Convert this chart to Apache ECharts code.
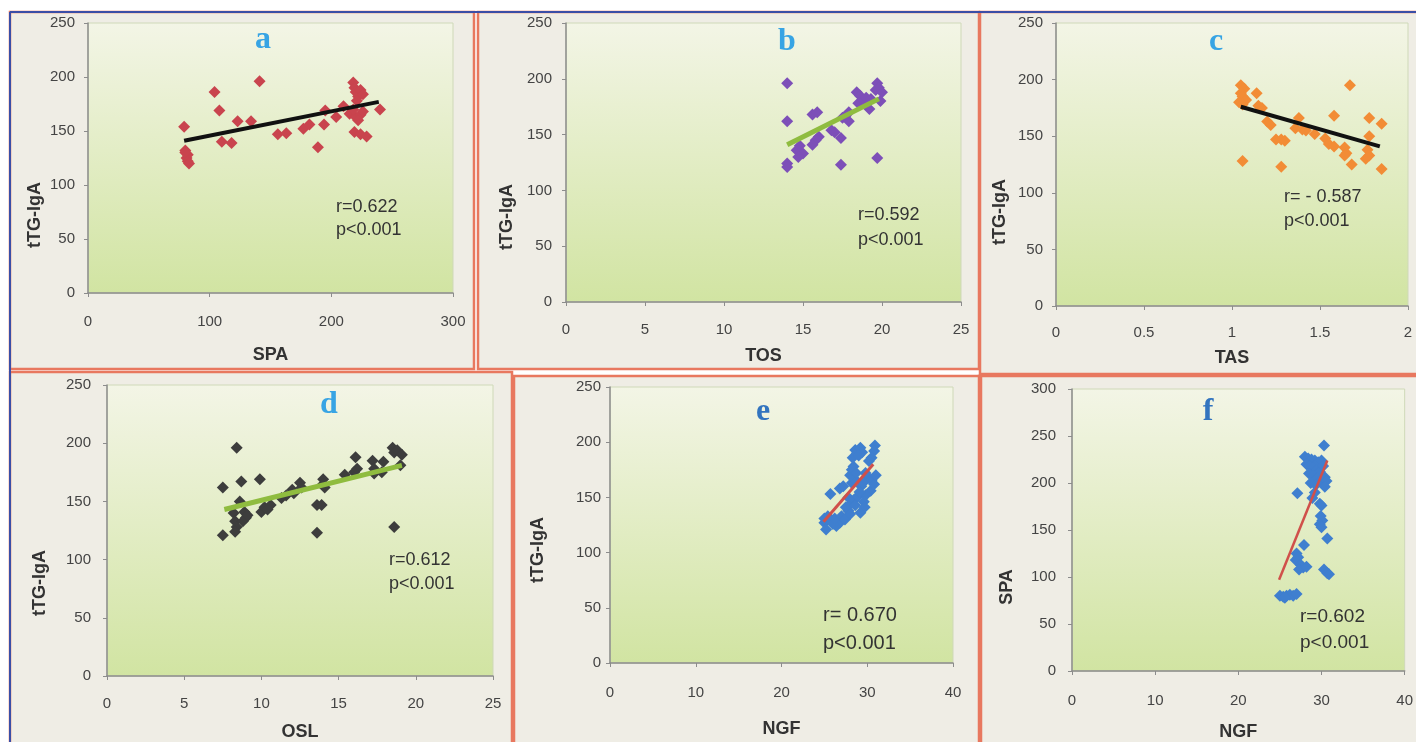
<!DOCTYPE html>
<html>
<head>
<meta charset="utf-8">
<script src="https://cdn.jsdelivr.net/npm/echarts@6/dist/echarts.min.js"></script>
<style>
html,body{margin:0;padding:0;background:#ffffff;}
#chart{width:1416px;height:742px;}
</style>
</head>
<body>
<div id="chart"></div>
<script>
// ---------- DATA ----------
const panelLetters = ['a','b','c','d','e','f'];
const xTitles = ['SPA','TOS','TAS','OSL','NGF','NGF'];
const yTitles = ['tTG-IgA','tTG-IgA','tTG-IgA','tTG-IgA','tTG-IgA','SPA'];
const rTexts = ['r=0.622','r=0.592','r= - 0.587','r=0.612','r= 0.670','r=0.602'];
const pTexts = ['p<0.001','p<0.001','p<0.001','p<0.001','p<0.001','p<0.001'];
const xMax = [300, 25, 2, 25, 40, 40];
const xStep = [100, 5, 0.5, 5, 10, 10];
const yMax = [250, 250, 250, 250, 250, 300];
const yStep = [50, 50, 50, 50, 50, 50];

const spaVsTtg = [[79,154],[80,132],[82,128],[81,125],[82,122],[83,120],[80,130],[104,186],[108,169],[110,140],[118,139],[123,159],[134,159],[141,196],[156,147],[163,148],[177,152],[182,156],[189,135],[194,156],[195,169],[204,163],[210,173],[218,195],[219,190],[220,186],[222,182],[221,178],[224,188],[226,184],[215,166],[220,163],[224,165],[222,160],[218,170],[226,168],[219,149],[224,147],[229,145],[240,170]];
const tosVsTtg = [[14,196],[14,162],[14,124],[14,121],[14.6,136],[14.8,140],[15,133],[14.7,130],[15.6,168],[15.9,170],[15.8,145],[15.6,141],[16,148],[16.8,154],[17,152],[17.4,147],[17.4,123],[17.7,167],[17.5,165],[17.9,162],[17.9,170],[18.4,188],[18.6,185],[18.5,178],[18.8,181],[19,183],[19.3,182],[19.2,173],[19.7,196],[19.8,192],[19.6,190],[19.9,180],[20,188],[19.7,129]];
const tasVsTtg = [[1.05,195],[1.07,192],[1.05,188],[1.06,185],[1.08,182],[1.04,180],[1.06,178],[1.14,188],[1.15,177],[1.17,175],[1.2,163],[1.22,160],[1.25,147],[1.28,147],[1.3,146],[1.06,128],[1.28,123],[1.38,166],[1.36,157],[1.4,156],[1.42,155],[1.47,152],[1.53,148],[1.55,143],[1.58,168],[1.58,141],[1.64,140],[1.65,135],[1.64,133],[1.67,195],[1.68,125],[1.78,166],[1.78,150],[1.77,138],[1.78,133],[1.76,130],[1.85,161],[1.85,121]];
const osiVsTtg = [[8.4,196],[7.5,162],[8.7,167],[9.9,169],[7.5,121],[8.6,150],[8.2,140],[8.3,133],[8.4,128],[8.3,124],[8.9,141],[9,136],[8.8,133],[9.1,138],[10,141],[10.2,145],[10.4,143],[10.6,147],[11.3,153],[11.6,155],[12,160],[12.1,157],[12.5,166],[12.6,162],[13.6,147],[13.9,147],[13.6,123],[14,169],[14,165],[14.1,162],[15.4,173],[16.1,188],[16.2,178],[16,175],[17.2,185],[17.3,178],[17.9,184],[17.8,175],[17.3,174],[18.5,196],[18.6,192],[18.8,194],[19.1,190],[19,181],[18.6,128]];
const ngfVsTtg = [[25,127],[25.2,121],[25.5,131],[25.4,133],[25,131],[26.4,124],[26.8,127],[26,126],[26.2,131],[27,133],[27.4,130],[25.7,153],[26.8,158],[27.2,160],[27.8,138],[27.5,141],[28,135],[27.8,150],[28.2,145],[28.5,148],[28.6,143],[28.9,151],[28.2,163],[28.5,167],[28,170],[28.4,178],[28.2,175],[28.7,172],[28.6,193],[28.8,190],[28.3,186],[29.2,195],[29.4,191],[29,188],[30.9,197],[30.8,192],[30.5,186],[30.2,183],[30.1,168],[30.5,165],[29.8,172],[30.4,156],[29.8,152],[29.6,146],[29.7,141],[29.3,160],[29.5,163],[29.1,155],[29.2,136],[30.8,162],[31,170]];
const ngfVsSpa = [[30.3,240],[28,228],[28.4,226],[28.8,225],[29.2,224],[29.6,222],[30,224],[28.2,220],[28.6,218],[29,216],[29.4,214],[29.8,212],[30.2,218],[28.5,210],[29,208],[29.5,205],[30,203],[30.4,206],[28.7,200],[29.3,198],[30.6,202],[30.4,196],[27.1,189],[28.9,184],[29.2,190],[29.8,178],[30,176],[29.9,165],[30.1,160],[29.8,156],[30,153],[30.7,141],[27.9,134],[27,125],[27.2,121],[26.9,118],[27.5,113],[27.8,110],[27.3,108],[28.2,111],[30.3,108],[30.7,104],[30.9,103],[25,80],[25.4,79],[25.8,80],[26.2,81],[26.6,80],[27,82],[25.6,78]];

const trendA = [[79,141],[239,177]];
const trendB = [[14,141],[19.8,182]];
const trendC = [[1.05,176],[1.84,141]];
const trendD = [[7.6,143],[19.1,181]];
const trendE = [[24.9,128],[30.7,180]];
const trendF = [[24.9,97],[30.7,224]];

const scatterSets = [spaVsTtg, tosVsTtg, tasVsTtg, osiVsTtg, ngfVsTtg, ngfVsSpa];
const trendSets = [trendA, trendB, trendC, trendD, trendE, trendF];

// ---------- LAYOUT / STYLE ----------
const grids = [
  {left:88, top:23, width:365, height:270},
  {left:566, top:23, width:395, height:279},
  {left:1056, top:23, width:352, height:283},
  {left:107, top:385, width:386, height:297},
  {left:610, top:387, width:343, height:276},
  {left:1072, top:389, width:334, height:284}
];
const panelBoxes = [
  [10,12,464,357],[478,12,501,357],[980,12,440,362],
  [10,372,502,375],[514,376,467,370],[979,376,440,370]
];
const xNameGap = [53, 45, 43, 47, 57, 52];
const yLabelMargin = [13, 14, 13, 16, 9, 16];
const xLabelMargin = [21, 20, 19, 20, 22, 22];
const yTitlePos = [[35,215],[507,217],[1000,212],[40,583],[538,550],[1007,587]];
const letterPos = [[263,40],[787,42],[1216,42],[329,405],[763,412],[1208,412]];
const letterColor = ['#37a4e4','#37a4e4','#37a4e4','#37a4e4','#3274bf','#3274bf'];
const annPos = [[336,207],[858,215],[1284,197],[389,560],[823,615],[1300,617]];
const annGap = [23, 25, 24, 24, 28, 26];
const annSize = [18, 18, 18, 18, 20, 19];
const dotColor = ['#c9444e','#7d4fb8','#f28c36','#3d3d3d','#3f7fcf','#3f7fcf'];
const lineColor = ['#111111','#8fbc3f','#111111','#8fbc3f','#d0504a','#d0504a'];
const lineWidth = [4, 5, 4, 5, 3, 2.5];

const chart = echarts.init(document.getElementById('chart'), null, {renderer:'canvas'});
const FONT = 'Liberation Sans';

const plotBg = new echarts.graphic.LinearGradient(0,0,0,1,[
  {offset:0, color:'#f3f5e6'},
  {offset:1, color:'#d1e4a2'}
]);

const option = {
  backgroundColor:'#ffffff',
  animation:false,
  grid: grids.map(g => Object.assign({show:true, backgroundColor:plotBg, borderColor:'#cfd9b8', borderWidth:1}, g)),
  xAxis: grids.map((g,i) => ({
    type:'value', gridIndex:i, min:0, max:xMax[i], interval:xStep[i],
    name:xTitles[i], nameLocation:'middle', nameGap:xNameGap[i],
    nameTextStyle:{fontFamily:FONT, fontSize:18, fontWeight:'bold', color:'#333'},
    axisLine:{show:true, onZero:false, lineStyle:{color:'#8c8c8c', width:1.5}},
    axisTick:{show:true, length:4, lineStyle:{color:'#8c8c8c'}},
    axisLabel:{margin:xLabelMargin[i], fontFamily:FONT, fontSize:15, color:'#444'},
    splitLine:{show:false}
  })),
  yAxis: grids.map((g,i) => ({
    type:'value', gridIndex:i, min:0, max:yMax[i], interval:yStep[i],
    axisLine:{show:true, onZero:false, lineStyle:{color:'#8c8c8c', width:1.5}},
    axisTick:{show:true, length:4, lineStyle:{color:'#8c8c8c'}},
    axisLabel:{margin:yLabelMargin[i], fontFamily:FONT, fontSize:15, color:'#444'},
    splitLine:{show:false}
  })),
  series: [],
  graphic: []
};

scatterSets.forEach((d,i) => {
  option.series.push({
    type:'scatter', xAxisIndex:i, yAxisIndex:i, data:d,
    symbol:'diamond', symbolSize:12, z:2,
    itemStyle:{color:dotColor[i], opacity:1}
  });
  option.series.push({
    type:'line', xAxisIndex:i, yAxisIndex:i, data:trendSets[i],
    symbol:'none', z:3, silent:true,
    lineStyle:{color:lineColor[i], width:lineWidth[i]}
  });
});

// panel backgrounds (behind)
panelBoxes.forEach(b => {
  option.graphic.push({type:'rect', z:-10, silent:true,
    shape:{x:b[0], y:b[1], width:b[2], height:b[3]},
    style:{fill:'#efede5'}});
});
// panel borders (front)
panelBoxes.forEach(b => {
  option.graphic.push({type:'rect', z:50, silent:true,
    shape:{x:b[0], y:b[1], width:b[2], height:b[3]},
    style:{fill:null, stroke:'#e8785f', lineWidth:2.5}});
});
// blue outer lines top and left
option.graphic.push({type:'line', z:51, silent:true, shape:{x1:10,y1:12,x2:1416,y2:12}, style:{stroke:'#3b4ea6', lineWidth:2}});
option.graphic.push({type:'line', z:51, silent:true, shape:{x1:10,y1:12,x2:10,y2:742}, style:{stroke:'#3b4ea6', lineWidth:2}});

for (let i = 0; i < 6; i++) {
  option.graphic.push({type:'text', z:60, x:yTitlePos[i][0], y:yTitlePos[i][1], rotation:Math.PI/2,
    style:{text:yTitles[i], fontFamily:FONT, fontSize:18, fontWeight:'bold', fill:'#333', align:'center', verticalAlign:'middle'}});
  option.graphic.push({type:'text', z:60, x:letterPos[i][0], y:letterPos[i][1],
    style:{text:panelLetters[i], fontFamily:'Liberation Serif', fontSize:32, fontWeight:'bold', fill:letterColor[i], align:'center', verticalAlign:'middle'}});
  option.graphic.push({type:'text', z:60, x:annPos[i][0], y:annPos[i][1],
    style:{text:rTexts[i], fontFamily:FONT, fontSize:annSize[i], fill:'#333', align:'left', verticalAlign:'middle'}});
  option.graphic.push({type:'text', z:60, x:annPos[i][0], y:annPos[i][1]+annGap[i],
    style:{text:pTexts[i], fontFamily:FONT, fontSize:annSize[i], fill:'#333', align:'left', verticalAlign:'middle'}});
}

chart.setOption(option);
</script>
</body>
</html>
